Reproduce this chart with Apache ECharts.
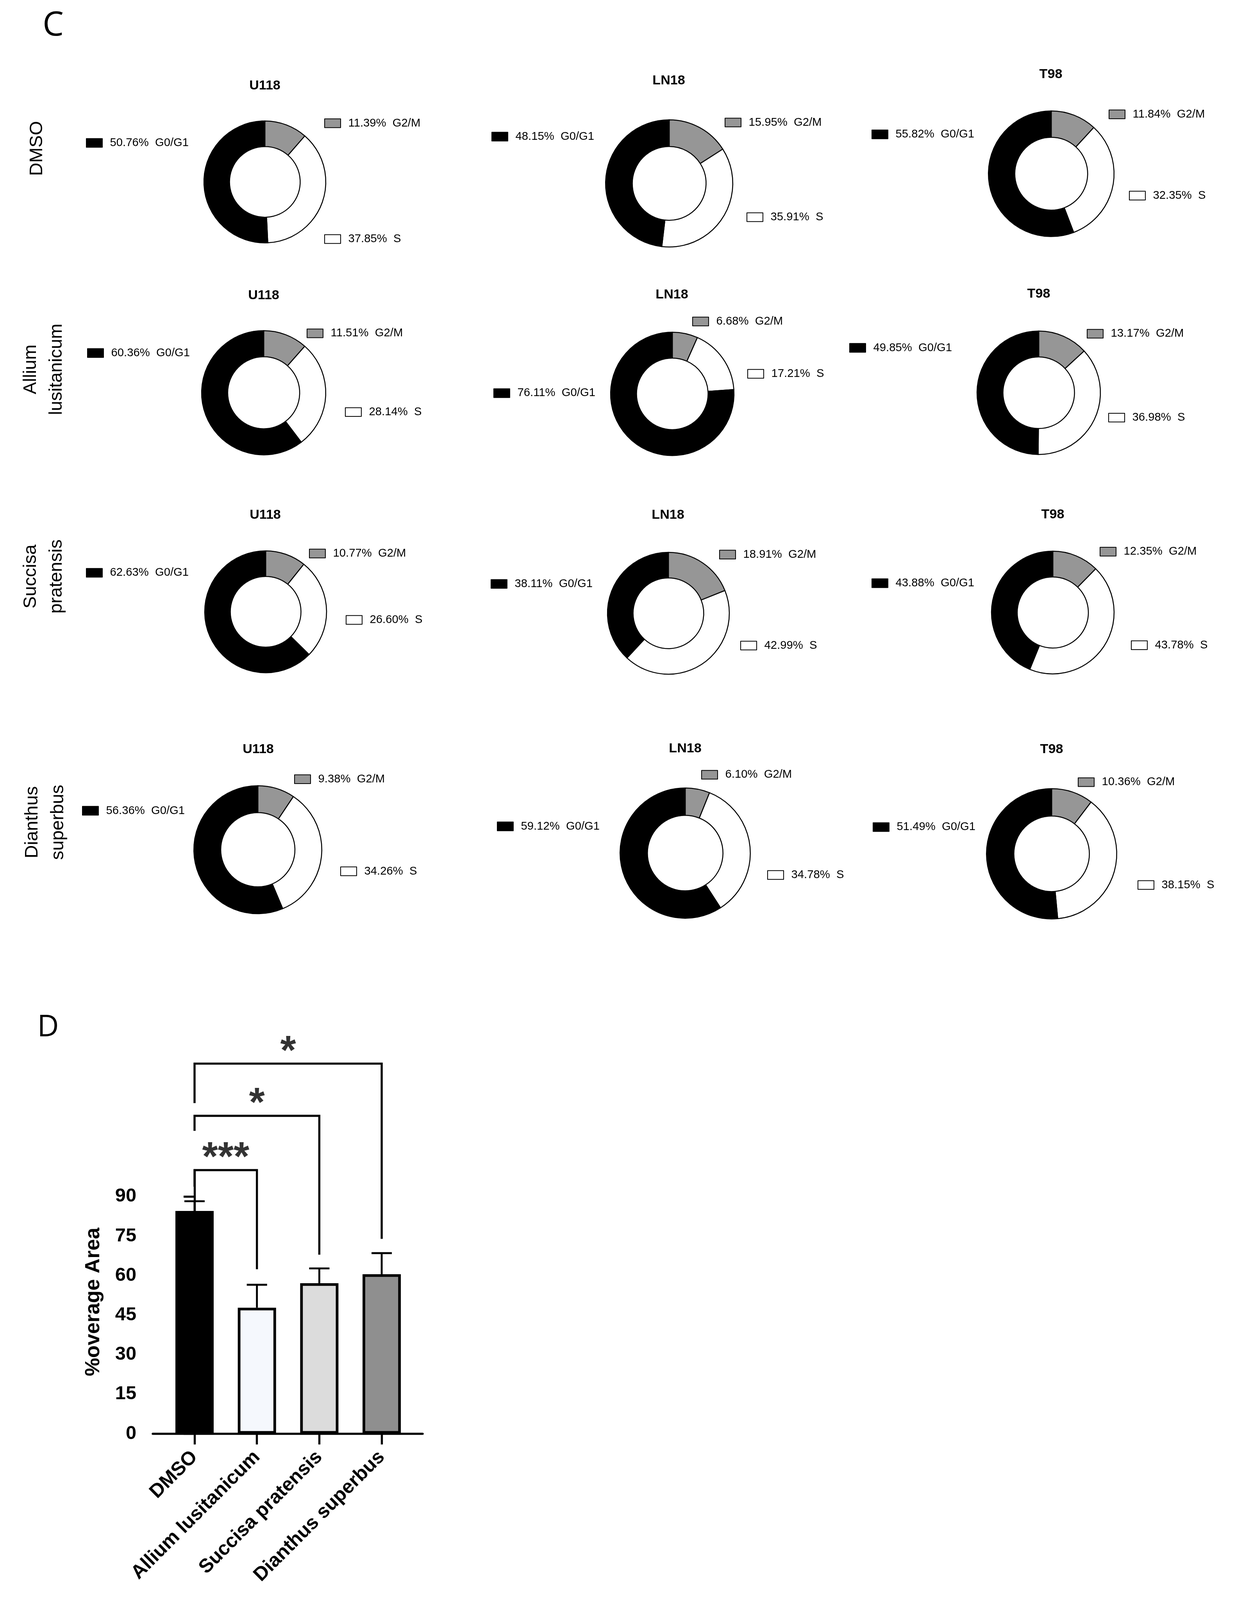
<!DOCTYPE html>
<html>
<head>
<meta charset="utf-8">
<script src="https://cdn.jsdelivr.net/npm/echarts@6.0.0/dist/echarts.min.js"></script>
<style>
html,body{margin:0;padding:0;background:#ffffff;overflow:hidden;}
#chart{width:3164px;height:4310px;}
</style>
</head>
<body>
<div id="chart"></div>
<script>
// ---------------- DATA ----------------
const cellLines = ['U118', 'LN18', 'T98'];
const treatments = ['DMSO', 'Allium\nlusitanicum', 'Succisa\npratensis', 'Dianthus\nsuperbus'];
const phaseNames = ['G2/M', 'S', 'G0/G1'];
// rows = treatments, columns = cell lines
const g2mPct  = [[11.39, 15.95, 11.84], [11.51, 6.68, 13.17], [10.77, 18.91, 12.35], [9.38, 6.10, 10.36]];
const sPct    = [[37.85, 35.91, 32.35], [28.14, 17.21, 36.98], [26.60, 42.99, 43.78], [34.26, 34.78, 38.15]];
const g0g1Pct = [[50.76, 48.15, 55.82], [60.36, 76.11, 49.85], [62.63, 38.11, 43.88], [56.36, 59.12, 51.49]];

const barCategories = ['DMSO', 'Allium lusitanicum', 'Succisa pratensis', 'Dianthus superbus'];
const barMeans = [84.5, 47.8, 57.1, 60.5];
const barErrors = [3.7, 8.7, 5.6, 8.0];
const yTickValues = [0, 15, 30, 45, 60, 75, 90];
const sigPairs = [[0, 1], [0, 2], [0, 3]];
const sigMarks = ['***', '*', '*'];
const sigTops = [100.0, 120.6, 140.4];
const sigLeftEnds = [93.7, 114.9, 125.4];
const sigRightEnds = [62.4, 67.9, 73.9];

// ---------------- LAYOUT / STYLE ----------------
// layout is given in reference-figure pixels (3164 x 4310) and mapped onto the actual viewport
const REF_W = 3164, REF_H = 4310;
const VW = window.innerWidth || REF_W;
const VH = window.innerHeight || REF_H;
const kx = VW / REF_W, ky = VH / REF_H, ks = Math.sqrt(kx * ky);
function X(v) { return v * kx; }
function Y(v) { return v * ky; }
function S(v) { return v * ks; }

const FONT = "'Liberation Sans', Arial, sans-serif";
const phaseColors = {'G2/M': '#969696', 'S': '#ffffff', 'G0/G1': '#000000'};
const barColors = ['#000000', '#f5f8fd', '#dcdcdc', '#8f8f8f'];

// per pie: c = centre, r = outer radius, t = title centre, g0/g2/s = legend icon left / centre-y
const pieLayout = [
  [
    {c: [678, 490],  r: 160, t: [678, 231],  g0: [220, 385],  g2: [830, 332],  s: [830, 644]},
    {c: [1713, 494], r: 167, t: [1712, 217], g0: [1258, 368], g2: [1855, 330], s: [1911, 585]},
    {c: [2691, 468], r: 165, t: [2690, 201], g0: [2231, 362], g2: [2838, 308], s: [2890, 527]}
  ],
  [
    {c: [675, 1058],  r: 163, t: [675, 796],  g0: [223, 951],   g2: [785, 898],  s: [883, 1110]},
    {c: [1721, 1061], r: 162, t: [1720, 794], g0: [1263, 1059], g2: [1772, 866], s: [1913, 1007]},
    {c: [2659, 1058], r: 162, t: [2659, 792], g0: [2174, 937],  g2: [2782, 899], s: [2837, 1125]}
  ],
  [
    {c: [680, 1648],  r: 160, t: [679, 1388],  g0: [220, 1543],  g2: [791, 1491],  s: [885, 1670]},
    {c: [1711, 1652], r: 160, t: [1710, 1388], g0: [1256, 1573], g2: [1841, 1494], s: [1895, 1739]},
    {c: [2695, 1650], r: 161, t: [2695, 1386], g0: [2231, 1571], g2: [2815, 1486], s: [2895, 1738]}
  ],
  [
    {c: [660, 2289],  r: 168, t: [661, 2019],  g0: [210, 2184],  g2: [753, 2099],  s: [871, 2347]},
    {c: [1754, 2298], r: 171, t: [1754, 2017], g0: [1272, 2226], g2: [1795, 2087], s: [1964, 2357]},
    {c: [2692, 2300], r: 171, t: [2692, 2019], g0: [2234, 2228], g2: [2759, 2107], s: [2912, 2384]}
  ]
];
const rowLabelPos = [[95, 400], [112, 995], [112, 1553], [116, 2215]];
const barGrid = {left: 391, top: 3152, right: 1082, bottom: 3862};

// ---------------- BUILD ----------------
const dom = document.getElementById('chart');
dom.style.width = VW + 'px';
dom.style.height = VH + 'px';
const chart = echarts.init(dom, null, {renderer: 'canvas', width: VW, height: VH});
const titles = [];
const legends = [];
const series = [];

treatments.forEach(function (tr, ri) {
  cellLines.forEach(function (cl, ci) {
    const L = pieLayout[ri][ci];
    const vals = {'G2/M': g2mPct[ri][ci], 'S': sPct[ri][ci], 'G0/G1': g0g1Pct[ri][ci]};
    titles.push({
      text: cl, left: X(L.t[0]), top: Y(L.t[1]), textAlign: 'center', textVerticalAlign: 'middle', padding: 0,
      textStyle: {fontFamily: FONT, fontWeight: 'bold', fontSize: S(35), color: '#000'}
    });
    series.push({
      type: 'pie', center: [X(L.c[0]), Y(L.c[1])], radius: [S(L.r * 0.58), S(L.r)],
      startAngle: 90, clockwise: true, silent: true, animation: false,
      label: {show: false}, labelLine: {show: false},
      itemStyle: {borderColor: '#000', borderWidth: 2.5},
      data: phaseNames.map(function (p) { return {name: p, value: vals[p], itemStyle: {color: phaseColors[p]}}; })
    });
    const legPos = {'G0/G1': L.g0, 'G2/M': L.g2, 'S': L.s};
    phaseNames.forEach(function (p) {
      const pos = legPos[p];
      const v = vals[p];
      const fs = S(30);
      legends.push({
        left: X(pos[0]), top: Y(pos[1]) - fs / 2, padding: 0, orient: 'horizontal',
        itemWidth: S(42), itemHeight: S(23), icon: 'rect', selectedMode: false,
        data: [p],
        formatter: function (name) { return v.toFixed(2) + '%  ' + name; },
        textStyle: {fontFamily: FONT, fontSize: fs, color: '#000', lineHeight: fs, padding: [0, 0, 0, S(15)]}
      });
    });
  });
});

series.push({
  type: 'bar', xAxisIndex: 0, yAxisIndex: 0, barWidth: X(98), animation: false, silent: true,
  itemStyle: {borderColor: '#000', borderWidth: S(7)},
  data: barMeans.map(function (m, i) { return {value: [i, m], itemStyle: {color: barColors[i]}}; }),
  z: 2
});
series.push({
  type: 'custom', xAxisIndex: 0, yAxisIndex: 0, animation: false, silent: true, z: 3,
  data: barMeans.map(function (m, i) { return [i, m, barErrors[i]]; }),
  renderItem: function (params, api) {
    const x = api.value(0), m = api.value(1), e = api.value(2);
    const p0 = api.coord([x, m]);
    const p1 = api.coord([x, m + e]);
    const half = X(26);
    return {
      type: 'group',
      children: [
        {type: 'line', shape: {x1: p0[0], y1: p0[1], x2: p1[0], y2: p1[1]}, style: {stroke: '#000', lineWidth: S(5)}},
        {type: 'line', shape: {x1: p1[0] - half, y1: p1[1], x2: p1[0] + half, y2: p1[1]}, style: {stroke: '#000', lineWidth: S(5)}}
      ]
    };
  }
});
sigPairs.forEach(function (pr, k) {
  series.push({
    type: 'line', xAxisIndex: 0, yAxisIndex: 0, clip: false, symbol: 'none', animation: false, silent: true,
    lineStyle: {color: '#000', width: S(5.5), join: 'miter'},
    data: [[pr[0], sigLeftEnds[k]], [pr[0], sigTops[k]], [pr[1], sigTops[k]], [pr[1], sigRightEnds[k]]]
  });
});
series.push({
  type: 'scatter', xAxisIndex: 0, yAxisIndex: 0, clip: false, symbolSize: 1, animation: false, silent: true,
  itemStyle: {color: 'rgba(0,0,0,0)'},
  data: sigPairs.map(function (pr, k) { return [(pr[0] + pr[1]) / 2, sigTops[k]]; }),
  label: {
    show: true, position: 'inside', offset: [0, -Y(29)],
    formatter: function (p) { return sigMarks[p.dataIndex]; },
    fontFamily: FONT, fontWeight: 'bold', fontSize: S(106), color: '#000'
  }
});

const graphics = [
  {type: 'text', x: X(136), y: Y(70), style: {text: 'C', fontFamily: "'Open Sans', 'Noto Sans', sans-serif", fontSize: S(88), fill: '#000', align: 'center', verticalAlign: 'middle'}},
  {type: 'text', x: X(123), y: Y(2769), style: {text: 'D', fontFamily: "'Open Sans', 'Noto Sans', sans-serif", fontSize: S(78), fill: '#000', align: 'center', verticalAlign: 'middle'}}
];
treatments.forEach(function (tr, ri) {
  graphics.push({
    type: 'text', x: X(rowLabelPos[ri][0]), y: Y(rowLabelPos[ri][1]), rotation: Math.PI / 2,
    style: {text: tr, fontFamily: FONT, fontSize: S(48), lineHeight: X(66), fill: '#000', align: 'center', verticalAlign: 'middle'}
  });
});

const option = {
  backgroundColor: '#ffffff',
  animation: false,
  title: titles,
  legend: legends,
  grid: [{
    left: X(barGrid.left), top: Y(barGrid.top),
    width: X(barGrid.right - barGrid.left), height: Y(barGrid.bottom - barGrid.top),
    containLabel: false, outerBoundsMode: 'none'
  }],
  xAxis: [{
    type: 'value', gridIndex: 0, min: -0.67, max: 3.657,
    splitLine: {show: false},
    axisLine: {show: true, onZero: false, lineStyle: {color: '#000', width: S(5.5)}},
    axisTick: {show: true, length: Y(29), customValues: [0, 1, 2, 3], lineStyle: {color: '#000', width: S(5.5)}},
    axisLabel: {
      show: true, customValues: [0, 1, 2, 3], rotate: 45, margin: Y(55), hideOverlap: false,
      fontFamily: FONT, fontWeight: 'bold', fontSize: S(51), color: '#000',
      formatter: function (v) { return barCategories[Math.round(v)] || ''; }
    }
  }],
  yAxis: [{
    type: 'value', gridIndex: 0, min: 0, max: 100,
    splitLine: {show: false},
    axisLine: {show: true, lineStyle: {color: '#000', width: S(5.5)}},
    axisTick: {show: true, length: X(28), customValues: yTickValues, lineStyle: {color: '#000', width: S(5.5)}},
    axisLabel: {show: true, customValues: yTickValues, margin: X(42), fontFamily: FONT, fontWeight: 'bold', fontSize: S(50), color: '#000'},
    name: '%overage Area', nameLocation: 'middle', nameGap: X(125),
    nameTextStyle: {fontFamily: FONT, fontWeight: 'bold', fontSize: S(54), color: '#000'}
  }],
  graphic: graphics,
  series: series
};
chart.setOption(option);
</script>
</body>
</html>
